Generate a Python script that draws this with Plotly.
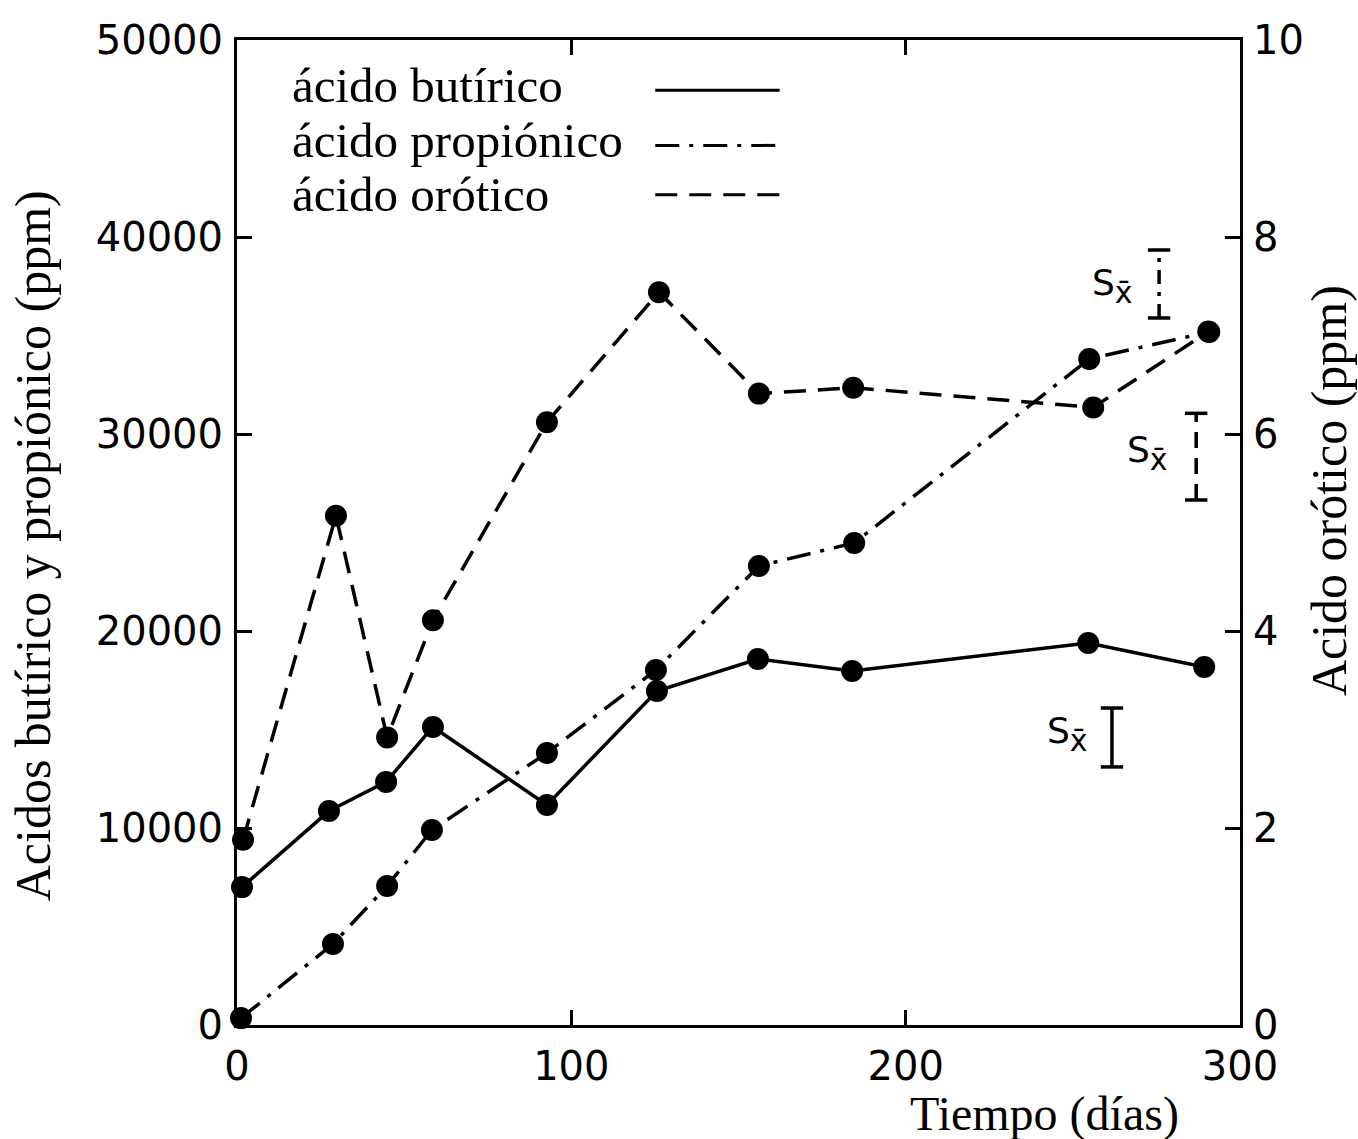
import plotly.graph_objects as go

# ---- data ----
days_but = [1.5, 27.5, 44.6, 58.6, 92.7, 125.6, 155.8, 184.0, 254.6, 289.3]
butirico = [7000, 10860, 12340, 15130, 11170, 16950, 18580, 17970, 19390, 18170]

days_pro = [1.2, 28.7, 44.9, 58.3, 92.7, 125.3, 156.1, 184.6, 254.9, 290.8]
propionico = [350, 4110, 7060, 9900, 13810, 18020, 23300, 24470, 33810, 35180]

days_oro = [1.8, 29.6, 44.9, 58.6, 92.7, 126.2, 156.1, 184.3, 256.1, 290.5]
orotico = [1.88, 5.17, 2.92, 4.11, 6.12, 7.44, 6.41, 6.47, 6.27, 7.04]

# standard-error bars (day, [low, high]) and their labels
sx_but_day = 261.7
sx_but = [13100, 16090]
sx_pro_day = 275.8
sx_pro = [35890, 39340]
sx_oro_day = 286.9
sx_oro = [5.33, 6.21]

sx_lab_but = (248.3, 14770)
sx_lab_pro = (262.0, 37510)
sx_lab_oro = (272.2, 29040)

x_ticks = [0, 100, 200, 300]
y_ticks = [0, 10000, 20000, 30000, 40000, 50000]
y2_ticks = [0, 2, 4, 6, 8, 10]

legend_names = ["ácido butírico", "ácido propiónico", "ácido orótico"]

SOLID = "solid"
DASHDOT = "24px,10px,4px,10px"
DASHED = "22px,12px"
LW = 3.5
MS = 22
SERIF = "Liberation Serif, Times New Roman, serif"
SANS = "DejaVu Sans, sans-serif"

fig = go.Figure()

marker = dict(symbol="circle", size=MS, color="black")

fig.add_trace(go.Scatter(x=days_but, y=butirico, mode="lines+markers",
                         line=dict(color="black", width=LW, dash=SOLID),
                         marker=marker, cliponaxis=False, name=legend_names[0]))
fig.add_trace(go.Scatter(x=days_pro, y=propionico, mode="lines+markers",
                         line=dict(color="black", width=LW, dash=DASHDOT),
                         marker=marker, cliponaxis=False, name=legend_names[1]))
fig.add_trace(go.Scatter(x=days_oro, y=orotico, mode="lines+markers",
                         line=dict(color="black", width=LW, dash=DASHED),
                         marker=marker, cliponaxis=False, name=legend_names[2],
                         yaxis="y2"))

cap = dict(symbol="line-ew", size=16, color="black",
           line=dict(width=3.5, color="black"))
fig.add_trace(go.Scatter(x=[sx_but_day, sx_but_day], y=sx_but, mode="lines+markers",
                         line=dict(color="black", width=3.5, dash=SOLID), marker=cap))
fig.add_trace(go.Scatter(x=[sx_pro_day, sx_pro_day], y=sx_pro, mode="lines+markers",
                         line=dict(color="black", width=3.5, dash="14px,8px,4px,8px"),
                         marker=cap))
fig.add_trace(go.Scatter(x=[sx_oro_day, sx_oro_day], y=sx_oro, mode="lines+markers",
                         line=dict(color="black", width=3.5, dash="16px,10px"),
                         marker=cap, yaxis="y2"))

annotations = []
sx_text = "S<sub><span style='font-size:30px'>x̄</span></sub>"
for lx, ly in [sx_lab_but, sx_lab_pro, sx_lab_oro]:
    annotations.append(dict(x=lx, y=ly, xref="x", yref="y", text=sx_text,
                            xanchor="center", yanchor="middle",
                            showarrow=False, font=dict(family=SANS, size=36, color="black")))

# legend (text left, line sample right, as in the reference)
leg_text_y = [0.954, 0.898, 0.843]
leg_line_y = [0.949, 0.893, 0.843]
leg_dash = [SOLID, DASHDOT, DASHED]
shapes = []
for name, ty, ly, dsh in zip(legend_names, leg_text_y, leg_line_y, leg_dash):
    annotations.append(dict(x=0.053, y=ty, xref="paper", yref="paper", text=name,
                            xanchor="left", yanchor="middle", showarrow=False,
                            font=dict(family=SERIF, size=49, color="black")))
    shapes.append(dict(type="line", xref="paper", yref="paper", x0=0.417, x1=0.541,
                       y0=ly, y1=ly, line=dict(color="black", width=3, dash=dsh)))

# axis titles
annotations.append(dict(x=0.8046, y=-0.0905, xref="paper", yref="paper",
                        xanchor="center", yanchor="middle",
                        text="Tiempo (días)", showarrow=False,
                        font=dict(family=SERIF, size=48, color="black")))
annotations.append(dict(x=-0.2034, y=0.487, xref="paper", yref="paper",
                        xanchor="center", yanchor="middle",
                        text="Acidos butírico y propiónico (ppm)", textangle=-90,
                        showarrow=False, font=dict(family=SERIF, size=50, color="black")))
annotations.append(dict(x=1.0887, y=0.543, xref="paper", yref="paper",
                        xanchor="center", yanchor="middle",
                        text="Acido orótico (ppm)", textangle=-90,
                        showarrow=False, font=dict(family=SERIF, size=50, color="black")))

axis_common = dict(ticks="inside", ticklen=15, tickwidth=3, tickcolor="black",
                   showline=True, linewidth=3, linecolor="black",
                   showgrid=False, zeroline=False,
                   tickfont=dict(family=SANS, size=40, color="black"))

fig.update_layout(
    width=1358, height=1139,
    margin=dict(l=237, r=118, t=40, b=114),
    paper_bgcolor="white", plot_bgcolor="white",
    showlegend=False,
    xaxis=dict(range=[0, 300], tickvals=x_ticks, ticktext=[str(v) for v in x_ticks],
               mirror="ticks", ticklabelstandoff=4, **axis_common),
    yaxis=dict(range=[0, 50000], tickvals=y_ticks, ticktext=[str(v) for v in y_ticks],
               mirror=True, ticklabelstandoff=3, **axis_common),
    yaxis2=dict(range=[0, 10], tickvals=y2_ticks, ticktext=[str(v) for v in y2_ticks],
                overlaying="y", side="right", ticklabelstandoff=2, **axis_common),
    annotations=annotations,
    shapes=shapes,
)

fig.write_html("out.html")
